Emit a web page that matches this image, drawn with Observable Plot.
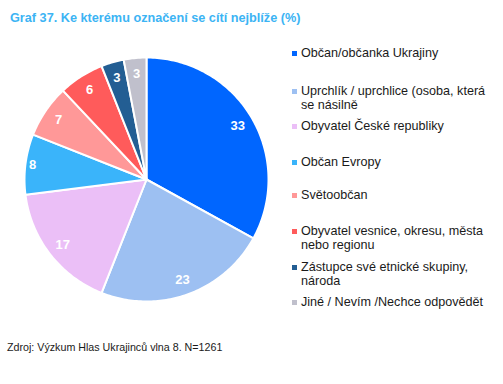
<!DOCTYPE html>
<html>
<head>
<meta charset="utf-8">
<script src="https://cdn.jsdelivr.net/npm/d3@7"></script>
<script src="https://cdn.jsdelivr.net/npm/@observablehq/plot@0.6"></script>
<style>
  body { margin: 0; background: #fff; font-family: "Liberation Sans", Arial, sans-serif; }
  #wrap { position: relative; width: 503px; height: 384px; overflow: hidden; }
  #title { position: absolute; left: 10px; top: 11px; font-size: 12.7px; font-weight: bold; color: #3cb4f4; white-space: nowrap; }
  #pie { position: absolute; left: 0; top: 44px; }
  #legend { position: absolute; left: 292px; top: 46px; width: 211px; }
  .item { position: absolute; left: 0; display: flex; align-items: flex-start; font-size: 12.6px; line-height: 14px; color: #1a1a1a; }
  .sw { width: 5px; height: 5px; margin-top: 5px; margin-right: 4px; flex: none; }
  #caption { position: absolute; left: 7px; top: 341px; font-size: 10.7px; color: #1a1a1a; white-space: nowrap; }
</style>
</head>
<body>
<div id="wrap">
  <div id="title"></div>
  <div id="pie"></div>
  <div id="legend"></div>
  <div id="caption"></div>
</div>
<script>
const titleText = "Graf 37. Ke kterému označení se cítí nejblíže (%)";
const captionText = "Zdroj: Výzkum Hlas Ukrajinců vlna 8. N=1261";
const categories = [
  "Občan/občanka Ukrajiny",
  "Uprchlík / uprchlice (osoba, která se násilně",
  "Obyvatel České republiky",
  "Občan Evropy",
  "Světoobčan",
  "Obyvatel vesnice, okresu, města nebo regionu",
  "Zástupce své etnické skupiny, národa",
  "Jiné / Nevím /Nechce odpovědět"
];
const legendLines = [
  ["Občan/občanka Ukrajiny"],
  ["Uprchlík / uprchlice (osoba, která", "se násilně"],
  ["Obyvatel České republiky"],
  ["Občan Evropy"],
  ["Světoobčan"],
  ["Obyvatel vesnice, okresu, města", "nebo regionu"],
  ["Zástupce své etnické skupiny,", "národa"],
  ["Jiné / Nevím /Nechce odpovědět"]
];
const values = [33, 23, 17, 8, 7, 6, 3, 3];
const colors = ["#0066ff", "#9dc0f2", "#ebbff7", "#3ab4fa", "#ff9898", "#ff5b5b", "#235e93", "#c0c0cc"];

document.getElementById("title").textContent = titleText;
document.getElementById("caption").textContent = captionText;

// Pie geometry from data
const arcs = d3.pie().sort(null).value(d => d)(values);
const pts = [];
arcs.forEach((a, i) => {
  const n = Math.max(2, Math.ceil((a.endAngle - a.startAngle) / (Math.PI / 180)));
  pts.push({k: categories[i], x: 0, y: 0});
  for (let j = 0; j <= n; j++) {
    const t = a.startAngle + (a.endAngle - a.startAngle) * j / n;
    pts.push({k: categories[i], x: Math.sin(t), y: Math.cos(t)});
  }
  pts.push({k: categories[i], x: 0, y: 0});
});
const labels = arcs.map((a, i) => {
  const m = (a.startAngle + a.endAngle) / 2;
  const rr = i === 3 ? 0.94 : 0.87;
  return {v: values[i], x: rr * Math.sin(m), y: rr * Math.cos(m)};
});

const chart = Plot.plot({
  width: 292,
  height: 270,
  marginLeft: 24, marginRight: 24, marginTop: 13, marginBottom: 13,
  x: {domain: [-1, 1], axis: null},
  y: {domain: [-1, 1], axis: null},
  color: {domain: categories, range: colors},
  style: {fontFamily: "Liberation Sans, Arial, sans-serif", background: "transparent"},
  marks: [
    Plot.line(pts, {x: "x", y: "y", z: "k", fill: "k", stroke: "white", strokeWidth: 2, strokeLinejoin: "round", curve: "linear"}),
    Plot.text(labels, {x: "x", y: "y", text: "v", fill: "white", fontSize: 13, fontWeight: "bold"})
  ]
});
document.getElementById("pie").appendChild(chart);

const legend = document.getElementById("legend");
const rowH = 35.7;
legendLines.forEach((lines, i) => {
  const it = document.createElement("div");
  it.className = "item";
  it.style.top = (i * rowH - 0.5 + (i >= 1 && i <= 3 ? 2.5 : 0)) + "px";
  const sw = document.createElement("div");
  sw.className = "sw";
  sw.style.background = colors[i];
  const tx = document.createElement("div");
  tx.innerHTML = lines.join("<br>");
  it.appendChild(sw); it.appendChild(tx);
  legend.appendChild(it);
});
</script>
</body>
</html>
